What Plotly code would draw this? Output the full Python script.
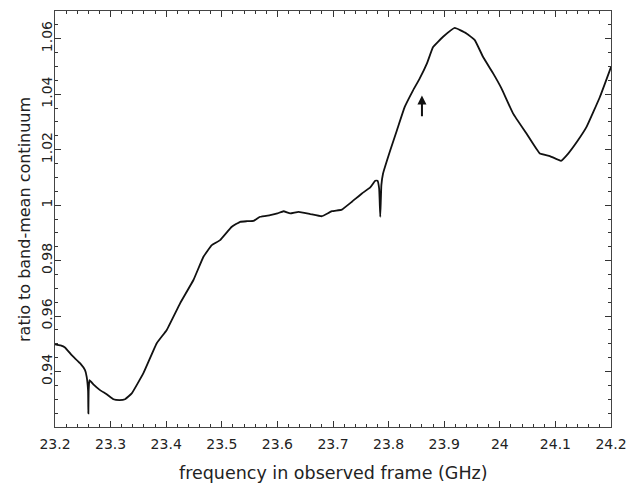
import plotly.graph_objects as go

freq = [23.200, 23.210, 23.218, 23.230, 23.245, 23.254, 23.257, 23.2595, 23.260, 23.2605, 23.262,
        23.270, 23.281, 23.293, 23.305, 23.316, 23.326, 23.338, 23.359, 23.383, 23.401, 23.425,
        23.449, 23.467, 23.482, 23.497, 23.518, 23.533, 23.545, 23.557, 23.569, 23.587, 23.600,
        23.611, 23.623, 23.638, 23.659, 23.680, 23.698, 23.716, 23.734, 23.752, 23.767, 23.776,
        23.780, 23.783, 23.785, 23.787, 23.790, 23.803, 23.815, 23.829, 23.844, 23.856, 23.869,
        23.880, 23.898, 23.919, 23.940, 23.955, 23.970, 23.988, 24.003, 24.024, 24.048, 24.072,
        24.090, 24.110, 24.123, 24.140, 24.156, 24.180, 24.200]
ratio = [0.9498, 0.9494, 0.9487, 0.9459, 0.9430, 0.9405, 0.9381, 0.9330, 0.9249, 0.9330, 0.9369,
         0.9352, 0.9333, 0.9318, 0.9300, 0.9297, 0.9300, 0.9321, 0.9394, 0.9502, 0.9550, 0.9646,
         0.9730, 0.9814, 0.9856, 0.9874, 0.9922, 0.9940, 0.9942, 0.9943, 0.9958, 0.9964, 0.9970,
         0.9978, 0.9970, 0.9976, 0.9968, 0.9960, 0.9978, 0.9984, 1.0012, 1.0042, 1.0064, 1.0088,
         1.0088, 1.0060, 0.9958, 1.0072, 1.0114, 1.0198, 1.0270, 1.0354, 1.0414, 1.0457, 1.0511,
         1.0570, 1.0607, 1.0639, 1.0619, 1.0595, 1.0534, 1.0475, 1.0421, 1.0330, 1.0258, 1.0186,
         1.0177, 1.0160, 1.0186, 1.0232, 1.0282, 1.0390, 1.0498]

arrow_x = 23.86
arrow_tail = 1.0315
arrow_head = 1.0395

xticks = [23.2, 23.3, 23.4, 23.5, 23.6, 23.7, 23.8, 23.9, 24.0, 24.1, 24.2]
xticklabels = ["23.2", "23.3", "23.4", "23.5", "23.6", "23.7", "23.8", "23.9", "24", "24.1", "24.2"]
yticks = [0.94, 0.96, 0.98, 1.00, 1.02, 1.04, 1.06]
yticklabels = ["0.94", "0.96", "0.98", "1", "1.02", "1.04", "1.06"]
x_title = "frequency in observed frame (GHz)"
y_title = "ratio to band-mean continuum"

fig = go.Figure()
fig.add_trace(go.Scatter(x=freq, y=ratio, mode="lines",
                         line=dict(color="#111111", width=1.8, shape="spline", smoothing=0.3),
                         showlegend=False))

fig.add_annotation(x=arrow_x, y=arrow_head, ax=arrow_x, ay=arrow_tail,
                   xref="x", yref="y", axref="x", ayref="y",
                   showarrow=True, arrowhead=2, arrowsize=0.9, arrowwidth=2,
                   arrowcolor="#111111", text="")

font_family = "DejaVu Sans, Verdana, sans-serif"

# axis titles placed as paper-referenced text
fig.add_annotation(text=x_title, xref="paper", yref="paper", x=0.5, y=-0.1106,
                   xanchor="center", yanchor="middle", showarrow=False,
                   font=dict(family=font_family, size=17.5, color="#222222"))
fig.add_annotation(text=y_title, xref="paper", yref="paper", x=-0.0558, y=0.5,
                   xanchor="center", yanchor="middle", showarrow=False, textangle=-90,
                   font=dict(family=font_family, size=16, color="#222222"))

axis_common = dict(showgrid=False, zeroline=False, showline=True, linecolor="#444444",
                   linewidth=1, mirror="allticks", ticks="inside", ticklen=6,
                   tickcolor="#333333", tickwidth=1, automargin=False,
                   tickfont=dict(family=font_family, size=14, color="#222222"))

fig.update_xaxes(range=[23.2, 24.2], tickmode="array", tickvals=xticks, ticktext=xticklabels,
                 ticklabelstandoff=4,
                 minor=dict(dtick=0.02, tick0=23.2, ticks="inside", ticklen=3,
                            tickcolor="#333333"),
                 **axis_common)
fig.update_yaxes(range=[0.92, 1.07], tickmode="array", tickvals=yticks, ticktext=yticklabels,
                 tickangle=-90, ticklabelstandoff=-4,
                 minor=dict(dtick=0.005, tick0=0.92, ticks="inside", ticklen=3,
                            tickcolor="#333333"),
                 **axis_common)

fig.update_layout(width=637, height=484, plot_bgcolor="white", paper_bgcolor="white",
                  margin=dict(l=55, r=26, t=11, b=57))

fig.write_html("out.html", config={"displayModeBar": False},
               post_script="document.body.style.margin='0';document.body.style.overflow='hidden';")
